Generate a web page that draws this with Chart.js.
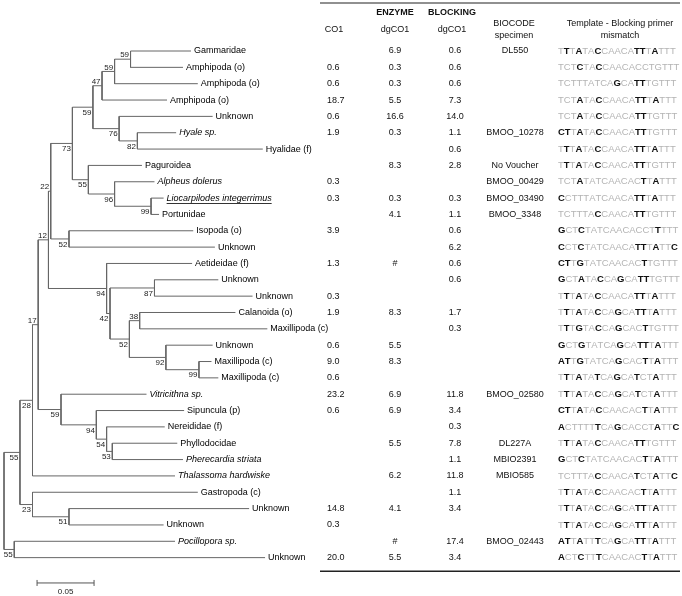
<!DOCTYPE html>
<html>
<head>
<meta charset="utf-8">
<script src="https://cdn.jsdelivr.net/npm/chart.js@4.4.0/dist/chart.umd.min.js"></script>
<style>
  html, body { margin: 0; padding: 0; background: #fff; }
</style>
</head>
<body>
<canvas id="tree" width="682" height="596"></canvas>
<script>
// leaf names, top to bottom
const taxa = ['Gammaridae','Amphipoda (o)','Amphipoda (o)','Amphipoda (o)','Unknown','Hyale sp.','Hyalidae (f)',
  'Paguroidea','Alpheus dolerus','Liocarpilodes integerrimus','Portunidae','Isopoda (o)','Unknown','Aetideidae (f)',
  'Unknown','Unknown','Calanoida (o)','Maxillipoda (c)','Unknown','Maxillipoda (c)','Maxillipoda (c)','Vitricithna sp.',
  'Sipuncula (p)','Nereididae (f)','Phyllodocidae','Pherecardia striata','Thalassoma hardwiske','Gastropoda (c)',
  'Unknown','Unknown','Pocillopora sp.','Unknown'];
const italicNames = ['Hyale sp.','Alpheus dolerus','Liocarpilodes integerrimus','Vitricithna sp.','Pherecardia striata',
  'Thalassoma hardwiske','Pocillopora sp.'];
const underlinedNames = ['Liocarpilodes integerrimus'];

// tree: leaves are row numbers, internal labels are bootstrap values
const newick = '(((((((((((0:0.053,1:0.046)59:0.014,2:0.073)59:0.011,3:0.057)47:0.008,(4:0.082,(5:0.034,6:0.110)82:0.016)76:0.023)59:0.018,' +
  '(7:0.047,(8:0.035,(9:0.011,10:0.007)99:0.032)96:0.023)55:0.014)73:0.019,(11:0.109,12:0.128)52:0.016)22:0.002,' +
  '(13:0.075,((14:0.056,15:0.086)87:0.039,((16:0.084,17:0.112)38:0.009,(18:0.041,(19:0.011,20:0.017)99:0.029)92:0.032)52:0.017)42:0.003)94:0.051)12:0.009,' +
  '(21:0.075,(22:0.077,(23:0.051,(24:0.057,25:0.062)53:0.005)54:0.009)94:0.031)59:0.020)17:0.005,26:0.125)28:0.011,' +
  '(27:0.145,(28:0.158,29:0.083)51:0.032)23:0.011)55:0.014,(30:0.141,31:0.220)55:0.009);';
const scaleBarLength = 0.05;

// table columns
const co1      = [null,0.6,0.6,18.7,0.6,1.9,null,null,0.3,0.3,null,3.9,null,1.3,null,0.3,1.9,null,0.6,9.0,0.6,23.2,0.6,null,null,null,null,null,14.8,0.3,null,20.0];
const enzyme   = [6.9,0.3,0.3,5.5,16.6,0.3,null,8.3,null,0.3,4.1,null,null,'#',null,null,8.3,null,5.5,8.3,null,6.9,6.9,null,5.5,null,6.2,null,4.1,null,'#',5.5];
const blocking = [0.6,0.6,0.6,7.3,14.0,1.1,0.6,2.8,null,0.3,1.1,0.6,6.2,0.6,0.6,null,1.7,0.3,null,null,null,11.8,3.4,0.3,7.8,1.1,11.8,1.1,3.4,null,17.4,3.4];
const biocode  = ['DL550','','','','','BMOO_10278','','No Voucher','BMOO_00429','BMOO_03490','BMOO_3348','','','','','','','','','','',
  'BMOO_02580','','','DL227A','MBIO2391','MBIO585','','','','BMOO_02443',''];
// upper case = mismatch (black), lower case = match (grey)
const mismatch = ['tTtAtaCcaacaTTtAttt','tctCtaCcaacacctgttt','tctttatcaGcaTTtgttt','tctAtaCcaacaTTtAttt','tctAtaCcaacaTTtgttt',
  'CTtAtaCcaacaTTtgttt','tTtAtaCcaacaTTtAttt','tTtAtaCcaacaTTtgttt','tctAtatcaacacTtAttt','CctttatcaacaTTtAttt',
  'tctttaCcaacaTTtgttt','GctCtatcaacacctTttt','CctCtatcaacaTTtAttC','CTtGtatcaacacTtgttt','GctAtaCcaGcaTTtgttt',
  'tTtAtaCcaacaTTtAttt','tTtAtaCcaGcaTTtAttt','tTtGtaCcaGcacTtgttt','GctGtatcaGcaTTtAttt','ATtGtatcaGcacTtAttt',
  'tTtAtaTcaGcaTctAttt','tTtAtaCcaGcaTctAttt','CTtAtaCcaacacTtAttt','ActtttTcaGcacctAttC','tTtAtaCcaacaTTtgttt',
  'GctCtatcaacacTtAttt','tctttaCcaacaTctAttC','tTtAtaCcaacacTtAttt','tTtAtaCcaGcaTTtAttt','tTtAtaCcaGcaTTtAttt',
  'ATtAttTcaGcaTTtAttt','ActCttTcaacacTtAttt'];

// bootstrap labels drawn above the branch (by leaf range), the rest go below
const labelAbove = ['0-1','0-2','0-3','0-12','0-20','0-25','16-17'];

function parseNewick(s) {
  let i = 0;
  function node() {
    const n = { children: [] };
    if (s[i] === '(') {
      i++;
      n.children.push(node());
      while (s[i] === ',') { i++; n.children.push(node()); }
      i++;
    }
    let lab = '';
    while (i < s.length && !':,);'.includes(s[i])) lab += s[i++];
    n.label = lab;
    n.len = 0;
    if (s[i] === ':') {
      i++;
      let num = '';
      while (!',);'.includes(s[i])) num += s[i++];
      n.len = parseFloat(num);
    }
    return n;
  }
  return node();
}

const root = parseNewick(newick);
const allNodes = [];
function layout(n, px) {
  n.x = px + n.len;
  n.parentX = px;
  if (n.children.length) {
    n.children.forEach(ch => layout(ch, n.x));
    n.y = (n.children[0].y + n.children[n.children.length - 1].y) / 2;
    n.first = n.children[0].first;
    n.last = n.children[n.children.length - 1].last;
  } else {
    n.row = parseInt(n.label);
    n.y = n.row;
    n.first = n.last = n.row;
  }
  allNodes.push(n);
}
layout(root, 0);

const lineColor = '#666';
const datasets = [];
allNodes.forEach(n => {
  if (n !== root) {
    datasets.push({ data: [{ x: n.parentX, y: n.y }, { x: n.x, y: n.y }] });
  }
  if (n.children.length) {
    datasets.push({ data: [{ x: n.x, y: n.children[0].y }, { x: n.x, y: n.children[n.children.length - 1].y }] });
  }
});
datasets.forEach(d => Object.assign(d, {
  showLine: true, borderColor: lineColor, borderWidth: 1, pointRadius: 0, clip: false, tension: 0
}));

const FONT = '"Liberation Sans", Arial, sans-serif';
function fmt(v) {
  if (v === null) return '';
  return typeof v === 'number' ? v.toFixed(1) : v;
}

const treeText = {
  id: 'treeText',
  afterDraw(chart) {
    const xs = chart.scales.x, ys = chart.scales.y, c = chart.ctx;
    c.save();
    c.fillStyle = '#000';

    // leaf names
    c.textBaseline = 'middle';
    c.textAlign = 'left';
    allNodes.filter(n => !n.children.length).forEach(n => {
      const name = taxa[n.row];
      c.font = (italicNames.includes(name) ? 'italic ' : '') + '9px ' + FONT;
      const px = xs.getPixelForValue(n.x) + 3, py = ys.getPixelForValue(n.row);
      c.fillText(name, px, py);
      if (underlinedNames.includes(name)) {
        const w = c.measureText(name).width;
        c.fillRect(px, py + 5, w, 0.8);
      }
    });

    // bootstrap values
    c.font = '8px ' + FONT;
    c.fillStyle = '#222';
    c.textAlign = 'right';
    allNodes.filter(n => n.children.length && n !== root && n.label).forEach(n => {
      const px = xs.getPixelForValue(n.x) - 1.5, py = ys.getPixelForValue(n.y);
      if (labelAbove.includes(n.first + '-' + n.last)) {
        c.textBaseline = 'bottom';
        c.fillText(n.label, px, py);
      } else {
        c.textBaseline = 'top';
        c.fillText(n.label, px, py + 1.5);
      }
    });

    // scale bar
    const bx0 = xs.getPixelForValue(0.029), bx1 = xs.getPixelForValue(0.029 + scaleBarLength);
    const by = ys.getPixelForValue(32.55);
    c.strokeStyle = '#555';
    c.lineWidth = 1;
    c.beginPath();
    c.moveTo(bx0, by); c.lineTo(bx1, by);
    c.moveTo(bx0, by - 3); c.lineTo(bx0, by + 3);
    c.moveTo(bx1, by - 3); c.lineTo(bx1, by + 3);
    c.stroke();
    c.fillStyle = '#222';
    c.textAlign = 'center';
    c.textBaseline = 'middle';
    c.font = '8px ' + FONT;
    c.fillText(String(scaleBarLength), (bx0 + bx1) / 2, by + 9);

    // table
    const colCO1 = 327, colEnz = 395, colBlk = 455, colBio = 515, colSeq = 558, colTpl = 620;
    c.fillStyle = '#111';
    c.font = 'bold 9px ' + FONT;
    c.fillText('ENZYME', colEnz, 13);
    c.fillText('BLOCKING', colBlk - 3, 13);
    c.font = '9px ' + FONT;
    c.fillText('CO1', colCO1 + 7, 30);
    c.fillText('dgCO1', colEnz, 30);
    c.fillText('dgCO1', colBlk - 3, 30);
    c.fillText('BIOCODE', colBio - 1, 24);
    c.fillText('specimen', colBio - 1, 36);
    c.fillText('Template - Blocking primer', colTpl, 24);
    c.fillText('mismatch', colTpl, 36);

    taxa.forEach((t, i) => {
      const py = ys.getPixelForValue(i);
      c.fillStyle = '#111';
      c.font = '9px ' + FONT;
      c.textAlign = 'left';
      c.fillText(fmt(co1[i]), colCO1, py);
      c.textAlign = 'center';
      c.fillText(fmt(enzyme[i]), colEnz, py);
      c.fillText(fmt(blocking[i]), colBlk, py);
      c.fillText(biocode[i], colBio, py);
      // sequence, letter by letter
      c.textAlign = 'left';
      let sx = colSeq;
      for (const ch of mismatch[i]) {
        const hit = ch === ch.toUpperCase();
        c.font = (hit ? 'bold ' : '') + '9.5px ' + FONT;
        c.fillStyle = hit ? '#111' : '#b4b4b4';
        c.fillText(ch.toUpperCase(), sx, py);
        sx += c.measureText(ch.toUpperCase()).width;
      }
    });

    c.fillStyle = '#222';
    c.fillRect(320, 2.5, 360, 1);
    c.fillRect(320, 570.5, 360, 1.5);
    c.restore();
  }
};

let chart = new Chart(document.getElementById('tree').getContext('2d'), {
  type: 'scatter',
  data: { datasets: datasets },
  options: {
    responsive: false,
    animation: false,
    layout: { padding: { left: 4, right: 393, top: 42.84, bottom: 30.2 } },
    scales: {
      x: { type: 'linear', display: false, min: 0, max: 0.25 },
      y: { type: 'linear', display: false, reverse: true, min: -0.5, max: 31.5 }
    },
    plugins: { legend: { display: false }, tooltip: { enabled: false } }
  },
  plugins: [treeText]
});
</script>
</body>
</html>
